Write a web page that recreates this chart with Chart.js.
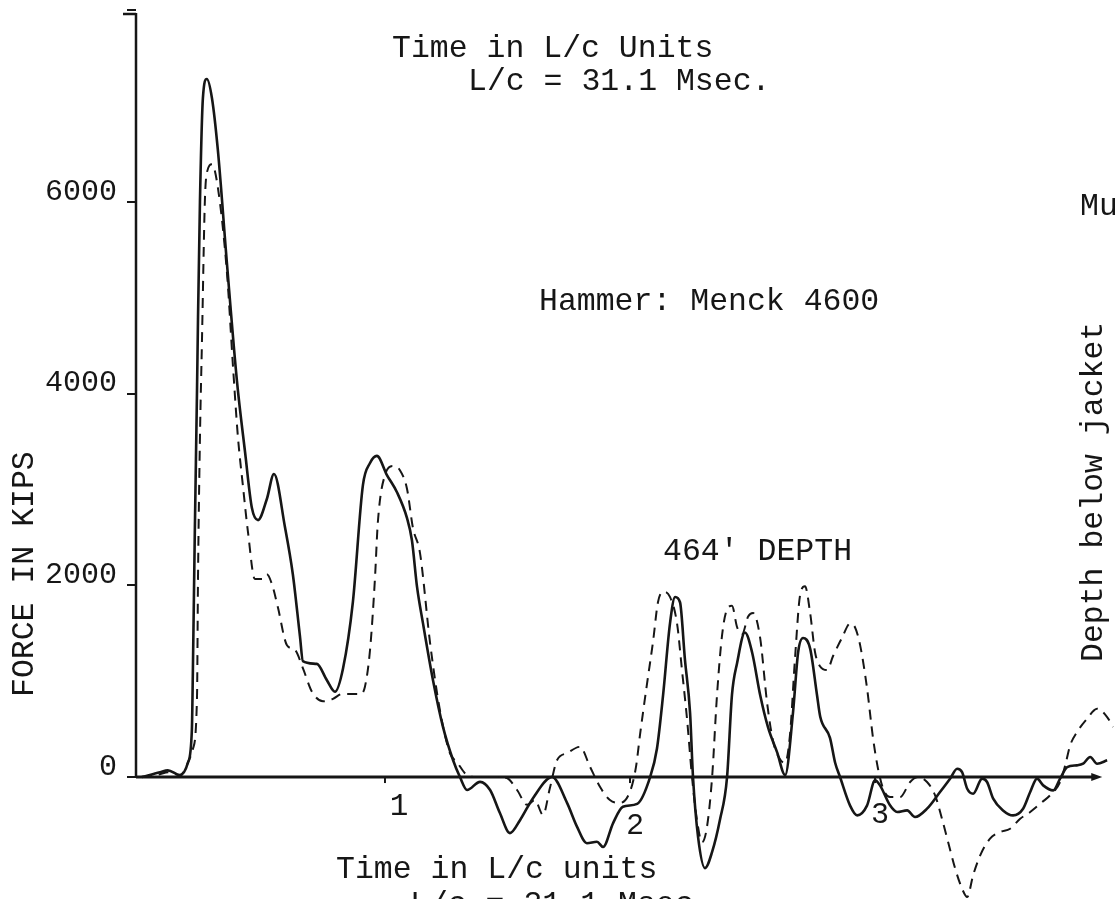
<!DOCTYPE html>
<html>
<head>
<meta charset="utf-8">
<title>Force record</title>
<script src="https://cdn.jsdelivr.net/npm/chart.js@4/dist/chart.umd.min.js"></script>
<style>
  html, body { margin: 0; padding: 0; background: #fff; }
  canvas { display: block; }
</style>
</head>
<body>
<canvas id="force" width="1115" height="899"></canvas>
<script>
// time in L/c units, force in kips
var timeSolid = [0.008, 0.082, 0.114, 0.163, 0.196, 0.212, 0.216, 0.224, 0.233, 0.237, 0.245, 0.257, 0.273, 0.294, 0.318, 0.355, 0.396, 0.429, 0.457, 0.482, 0.518, 0.547, 0.592, 0.624, 0.653, 0.665, 0.722, 0.763, 0.796, 0.829, 0.869, 0.910, 0.939, 0.967, 1.008, 1.049, 1.090, 1.110, 1.131, 1.155, 1.196, 1.237, 1.278, 1.306, 1.335, 1.388, 1.429, 1.469, 1.510, 1.551, 1.604, 1.682, 1.743, 1.784, 1.824, 1.865, 1.890, 1.931, 1.971, 2.029, 2.082, 2.110, 2.135, 2.163, 2.184, 2.204, 2.224, 2.245, 2.257, 2.278, 2.306, 2.335, 2.367, 2.396, 2.416, 2.437, 2.469, 2.498, 2.531, 2.563, 2.600, 2.633, 2.665, 2.686, 2.706, 2.735, 2.763, 2.776, 2.816, 2.837, 2.857, 2.898, 2.927, 2.967, 3.000, 3.020, 3.061, 3.090, 3.131, 3.163, 3.212, 3.265, 3.306, 3.335, 3.355, 3.376, 3.400, 3.437, 3.457, 3.482, 3.522, 3.563, 3.604, 3.633, 3.661, 3.686, 3.727, 3.755, 3.784, 3.824, 3.849, 3.878, 3.906, 3.947];
var forceSolid = [0, 50, 70, 20, 150, 490, 1085, 2555, 4035, 4775, 6005, 7080, 7280, 7080, 6540, 5360, 4130, 3390, 2805, 2680, 2900, 3160, 2605, 2115, 1470, 1210, 1180, 1010, 890, 1135, 1825, 3045, 3275, 3350, 3150, 2970, 2700, 2470, 1980, 1605, 1010, 520, 175, 0, -135, -50, -135, -375, -585, -450, -220, 0, -270, -520, -690, -675, -730, -480, -310, -280, 0, 298, 856, 1600, 1878, 1823, 1228, 670, 0, -632, -950, -781, -446, 0, 856, 1190, 1507, 1302, 856, 521, 260, 20, 670, 1302, 1450, 1339, 856, 632, 409, 149, 0, -298, -400, -298, -35, -87, -295, -365, -348, -417, -330, -156, -17, 87, 52, -122, -174, -17, -52, -226, -348, -400, -330, -156, -17, -87, -139, -17, 104, 122, 139, 209, 139, 174];

var timeDashed = [0.008, 0.082, 0.114, 0.163, 0.204, 0.216, 0.233, 0.237, 0.245, 0.253, 0.265, 0.273, 0.294, 0.318, 0.355, 0.380, 0.400, 0.420, 0.441, 0.469, 0.498, 0.518, 0.539, 0.563, 0.600, 0.633, 0.665, 0.702, 0.747, 0.788, 0.824, 0.857, 0.898, 0.918, 0.939, 0.959, 0.971, 1.000, 1.033, 1.061, 1.090, 1.114, 1.143, 1.184, 1.224, 1.265, 1.294, 1.335, 1.376, 1.429, 1.469, 1.498, 1.539, 1.580, 1.612, 1.645, 1.673, 1.702, 1.743, 1.796, 1.837, 1.878, 1.918, 1.959, 2.000, 2.024, 2.041, 2.069, 2.094, 2.114, 2.135, 2.163, 2.192, 2.212, 2.233, 2.253, 2.273, 2.294, 2.314, 2.335, 2.355, 2.376, 2.396, 2.416, 2.437, 2.457, 2.482, 2.502, 2.531, 2.559, 2.584, 2.612, 2.633, 2.653, 2.673, 2.694, 2.714, 2.735, 2.755, 2.776, 2.804, 2.829, 2.865, 2.898, 2.918, 2.939, 2.967, 2.992, 3.012, 3.033, 3.061, 3.102, 3.143, 3.176, 3.212, 3.245, 3.273, 3.298, 3.327, 3.355, 3.376, 3.400, 3.429, 3.469, 3.510, 3.551, 3.592, 3.633, 3.682, 3.714, 3.755, 3.776, 3.796, 3.824, 3.865, 3.906, 3.947, 3.971];
var forceDashed = [0, 30, 50, 20, 200, 290, 835, 2065, 3545, 4525, 6005, 6300, 6390, 6150, 5265, 4275, 3545, 3045, 2555, 2065, 2065, 2115, 2010, 1770, 1375, 1325, 1135, 890, 790, 815, 865, 865, 865, 940, 1325, 2065, 2660, 3150, 3245, 3200, 3005, 2600, 2335, 1400, 700, 250, 155, 20, 0, 0, 0, -10, -135, -290, -240, -395, -115, 175, 250, 315, 105, -105, -240, -270, -150, 100, 446, 967, 1414, 1823, 1934, 1879, 1600, 1116, 595, 0, -446, -680, -521, 0, 856, 1488, 1748, 1786, 1562, 1488, 1674, 1711, 1451, 781, 372, 186, 149, 446, 1228, 1897, 1990, 1711, 1302, 1153, 1116, 1265, 1451, 1600, 1562, 1376, 930, 400, 87, -122, -209, -209, -52, 0, -52, -191, -435, -678, -956, -1164, -1251, -1025, -817, -643, -574, -539, -435, -365, -261, -191, -52, 122, 330, 469, 608, 713, 626, 521];

var forceTicks = [0, 2000, 4000, 6000, 8000];
var timeTicks = [1, 2, 3];
var timeTickLabels = ['1', '2', '3'];

var ink = '#161616';
var mono = '"Liberation Mono", "DejaVu Sans Mono", monospace';

function toPoints(xs, ys) {
  return xs.map(function (x, i) {
    return { x: x, y: ys[i] };
  });
}

// axis lines, arrow and the odd tick marks
var axesPlugin = {
  id: 'axes',
  beforeDatasetsDraw: function (chart) {
    var ctx = chart.ctx;
    var xs = chart.scales.x;
    var ys = chart.scales.y;
    var x0 = xs.getPixelForValue(-0.016);
    var xEnd = xs.getPixelForValue(3.927);
    var y0 = ys.getPixelForValue(0);
    var yTop = ys.getPixelForValue(7970);
    ctx.save();
    ctx.strokeStyle = ink;
    ctx.fillStyle = ink;
    ctx.lineCap = 'butt';

    ctx.lineWidth = 2.5;
    ctx.beginPath();
    ctx.moveTo(x0, yTop);
    ctx.lineTo(x0, y0);
    ctx.moveTo(x0 - 13, yTop + 1);
    ctx.lineTo(x0, yTop + 1);
    ctx.stroke();

    ctx.lineWidth = 3;
    ctx.beginPath();
    ctx.moveTo(x0, y0);
    ctx.lineTo(xEnd - 6, y0);
    ctx.stroke();
    ctx.beginPath();
    ctx.moveTo(xEnd, y0);
    ctx.lineTo(xEnd - 11, y0 - 4);
    ctx.lineTo(xEnd - 11, y0 + 4);
    ctx.closePath();
    ctx.fill();

    ctx.lineWidth = 2;
    timeTicks.forEach(function (t) {
      var px = xs.getPixelForValue(t);
      ctx.beginPath();
      ctx.moveTo(px, y0);
      ctx.lineTo(px, y0 + 6);
      ctx.stroke();
    });
    ctx.restore();
  },
  afterDraw: function (chart) {
    var ctx = chart.ctx;
    var xs = chart.scales.x;
    var y0 = chart.scales.y.getPixelForValue(0);
    ctx.save();
    ctx.fillStyle = ink;
    ctx.textBaseline = 'alphabetic';
    ctx.textAlign = 'left';

    ctx.font = '31.5px ' + mono;
    ctx.fillText('Time in L/c Units', 392, 57);
    ctx.fillText('L/c = 31.1 Msec.', 468, 90);
    ctx.fillText('Hammer: Menck 4600', 539, 310);
    ctx.fillText("464' DEPTH", 663, 560);
    ctx.fillText('Mu', 1080, 215);
    ctx.fillText('Time in L/c units', 336, 878);
    ctx.fillText('L/c = 31.1 Msec.', 410, 913);

    ctx.save();
    ctx.translate(33, 697);
    ctx.rotate(-Math.PI / 2);
    ctx.fillText('FORCE IN KIPS', 0, 0);
    ctx.restore();

    ctx.save();
    ctx.translate(1102, 662);
    ctx.rotate(-Math.PI / 2);
    ctx.fillText('Depth below jacket', 0, 0);
    ctx.restore();

    // time tick numbers sit loosely under the axis
    ctx.textAlign = 'center';
    ctx.font = '31px ' + mono;
    ctx.fillText(timeTickLabels[0], xs.getPixelForValue(timeTicks[0]) + 14, y0 + 38);
    ctx.font = '30px "Liberation Sans", sans-serif';
    ctx.fillText(timeTickLabels[1], xs.getPixelForValue(timeTicks[1]) + 5, y0 + 57);
    ctx.fillText(timeTickLabels[2], xs.getPixelForValue(timeTicks[2]) + 5, y0 + 46);
    ctx.restore();
  }
};

var chart = new Chart(document.getElementById('force').getContext('2d'), {
  type: 'line',
  data: {
    datasets: [{
      label: 'solid',
      data: toPoints(timeSolid, forceSolid),
      borderColor: ink,
      borderWidth: 2.6,
      pointRadius: 0,
      cubicInterpolationMode: 'monotone',
      fill: false
    }, {
      label: 'dashed',
      data: toPoints(timeDashed, forceDashed),
      borderColor: ink,
      borderWidth: 2,
      borderDash: [10, 7],
      pointRadius: 0,
      cubicInterpolationMode: 'monotone',
      fill: false
    }]
  },
  options: {
    responsive: false,
    animation: false,
    layout: { padding: { top: 10, right: 1, bottom: 0, left: 0 } },
    plugins: {
      legend: { display: false },
      tooltip: { enabled: false }
    },
    scales: {
      x: {
        type: 'linear',
        display: false,
        min: -0.016,
        max: 3.975
      },
      y: {
        type: 'linear',
        min: -1272,
        max: 8000,
        afterFit: function (scale) {
          scale.width = 136;
          scale.paddingTop = 0;
          scale.paddingBottom = 0;
        },
        afterBuildTicks: function (scale) {
          scale.ticks = forceTicks.map(function (v) {
            return { value: v };
          });
        },
        border: { display: false },
        grid: {
          drawOnChartArea: false,
          drawTicks: true,
          tickLength: 9,
          lineWidth: 2,
          color: ink
        },
        ticks: {
          padding: 10,
          labelOffset: -10,
          color: ink,
          font: { family: mono, size: 30 },
          callback: function (v) {
            return v === 8000 ? '' : String(v);
          }
        }
      }
    }
  },
  plugins: [axesPlugin]
});
</script>
</body>
</html>
